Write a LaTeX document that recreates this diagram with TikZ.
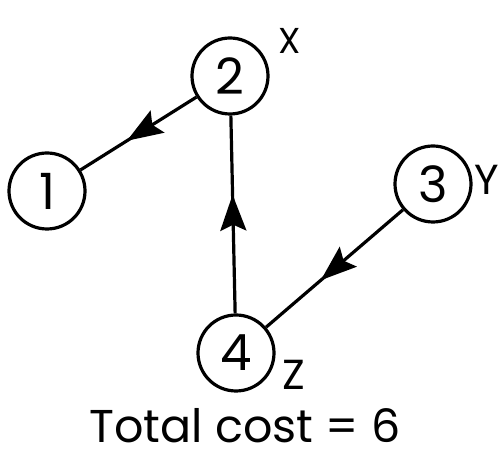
\documentclass[tikz,border=0pt]{standalone}
\usepackage{fontspec}
\setmainfont{Poppins}
\usetikzlibrary{arrows.meta,decorations.markings}
\tikzset{
 edge/.style={line width=3.2pt},
 midarrow/.style={postaction={decorate},decoration={markings,mark=at position .6 with {\arrow{Stealth[length=36pt,width=26pt,inset=6pt]}}}},
 vertex/.style={circle,draw,line width=3.2pt,fill=white,minimum size=76pt,inner sep=0,font=\fontsize{50}{50}\selectfont},
 tag/.style={font=\fontsize{42}{42}\selectfont,inner sep=0}
}
\begin{document}
\begin{tikzpicture}[x=1pt,y=1pt]
\path[use as bounding box] (0,0) rectangle (499,452);
\node[vertex] (n2) at (230,376) {2};
\node[vertex] (n1) at (47,261) {1};
\node[vertex] (n3) at (433,268) {3};
\node[vertex] (n4) at (236,99) {4};
\node[tag,font=\fontsize{36}{36}\selectfont] (tx) at (290,411) {X};
\node[tag] (ty) at (487,272) {Y};
\node[tag] (tz) at (294,77) {Z};
\draw[edge,midarrow] (n2) -- (n1);
\draw[edge,midarrow] (n4) -- (n2);
\draw[edge,midarrow] (n3) -- (n4);
\node[anchor=base,inner sep=0,text depth=0pt,font=\fontsize{46}{46}\selectfont] (total) at (245,9) {Total cost = 6};
\end{tikzpicture}
\end{document}
